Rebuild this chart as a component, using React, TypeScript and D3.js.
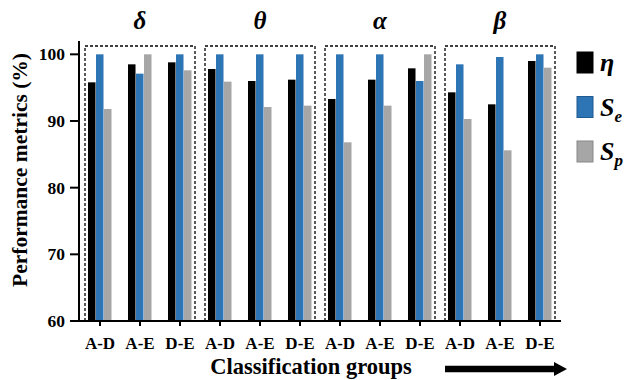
import React from "react";
import * as d3 from "d3";

const bands = ["δ", "θ", "α", "β"];
const pairs = ["A-D", "A-E", "D-E"];
const metrics = ["η", "Se", "Sp"];
const colors = ["#000000", "#2e75b6", "#a6a6a6"];

// values per band, per pair: [eta, Se, Sp]
const eta = [95.8, 98.5, 98.8, 97.8, 96.0, 96.2, 93.3, 96.2, 97.9, 94.3, 92.5, 99.0];
const se = [100, 97.1, 100, 100, 100, 100, 100, 100, 96.0, 98.5, 99.6, 100];
const sp = [91.8, 100, 97.6, 95.9, 92.1, 92.3, 86.8, 92.3, 100, 90.3, 85.6, 98.0];
const yTicks = [60, 70, 80, 90, 100];

const W = 630;
const H = 380;
const font = { fontFamily: "Liberation Serif" };

export default function App() {
  const cats = bands.flatMap((b) => pairs.map((p) => b + "|" + p));
  const x = d3.scaleBand<string>().domain(cats).range([80, 560]);
  const sub = d3
    .scaleBand<string>()
    .domain(metrics)
    .range([8, 31.5])
    .paddingInner(0.06);
  const y = d3.scaleLinear().domain([60, 102]).range([321, 41]);
  const series = [eta, se, sp];

  return (
    <svg
      width={W}
      height={H}
      style={{ position: "absolute", left: 0, top: 0, background: "#fff" }}
    >
      {/* bars */}
      {cats.map((c, i) =>
        metrics.map((m, j) => (
          <rect
            key={c + m}
            x={(x(c) as number) + (sub(m) as number)}
            y={y(series[j][i])}
            width={sub.bandwidth()}
            height={y(60) - y(series[j][i])}
            fill={colors[j]}
          />
        ))
      )}

      {/* dashed group boxes and greek titles */}
      {bands.map((b) => {
        const x0 = x(b + "|" + pairs[0]) as number;
        const x1 = (x(b + "|" + pairs[2]) as number) + x.bandwidth();
        return (
          <g key={b}>
            <rect
              x={x0 + 5}
              y={46}
              width={x1 - x0 - 10}
              height={y(60) - 46}
              fill="none"
              stroke="#000"
              strokeWidth={1.3}
              strokeDasharray="3,2"
            />
            <text
              x={(x0 + x1) / 2}
              y={29}
              textAnchor="middle"
              fontSize={25}
              fontWeight="bold"
              fontStyle="italic"
              style={font}
            >
              {b}
            </text>
          </g>
        );
      })}

      {/* y axis */}
      <line x1={79} x2={79} y1={y(102)} y2={y(60)} stroke="#000" strokeWidth={2} />
      {yTicks.map((t) => (
        <g key={t}>
          <line x1={70} x2={79} y1={y(t)} y2={y(t)} stroke="#000" strokeWidth={2} />
          <text
            x={65}
            y={y(t) + 6}
            textAnchor="end"
            fontSize={17.5}
            fontWeight="bold"
            style={font}
          >
            {t}
          </text>
        </g>
      ))}

      {/* x axis */}
      <line x1={78} x2={561} y1={y(60)} y2={y(60)} stroke="#000" strokeWidth={2} />
      {cats.map((c) => {
        const cx = (x(c) as number) + x.bandwidth() / 2;
        return (
          <g key={c}>
            <line x1={cx} x2={cx} y1={y(60)} y2={y(60) + 5} stroke="#000" strokeWidth={2} />
            <text
              x={cx}
              y={349}
              textAnchor="middle"
              fontSize={17}
              fontWeight="bold"
              style={font}
            >
              {c.split("|")[1]}
            </text>
          </g>
        );
      })}

      {/* axis titles */}
      <text
        transform="translate(27,170) rotate(-90)"
        textAnchor="middle"
        fontSize={21.5}
        fontWeight="bold"
        style={font}
      >
        Performance metrics (%)
      </text>
      <text
        x={311}
        y={374}
        textAnchor="middle"
        fontSize={22.5}
        fontWeight="bold"
        style={font}
      >
        Classification groups
      </text>

      {/* arrow */}
      <line x1={445} x2={556} y1={369} y2={369} stroke="#000" strokeWidth={6.5} />
      <polygon points="554,362 567,369 554,376" fill="#000" />

      {/* legend */}
      {metrics.map((m, j) => (
        <g key={m} transform={`translate(577,${52 + j * 44.5})`}>
          <rect
            width={16}
            height={21}
            fill={colors[j]}
            stroke={j === 0 ? "#000" : j === 1 ? "#1f5a90" : "#888"}
            strokeWidth={1}
          />
          <text
            x={23}
            y={19}
            fontSize={26}
            fontWeight="bold"
            fontStyle="italic"
            style={font}
          >
            {m === "η" ? (
              "η"
            ) : (
              <>
                S
                <tspan fontSize={17} dy={6}>
                  {m[1]}
                </tspan>
              </>
            )}
          </text>
        </g>
      ))}
    </svg>
  );
}
